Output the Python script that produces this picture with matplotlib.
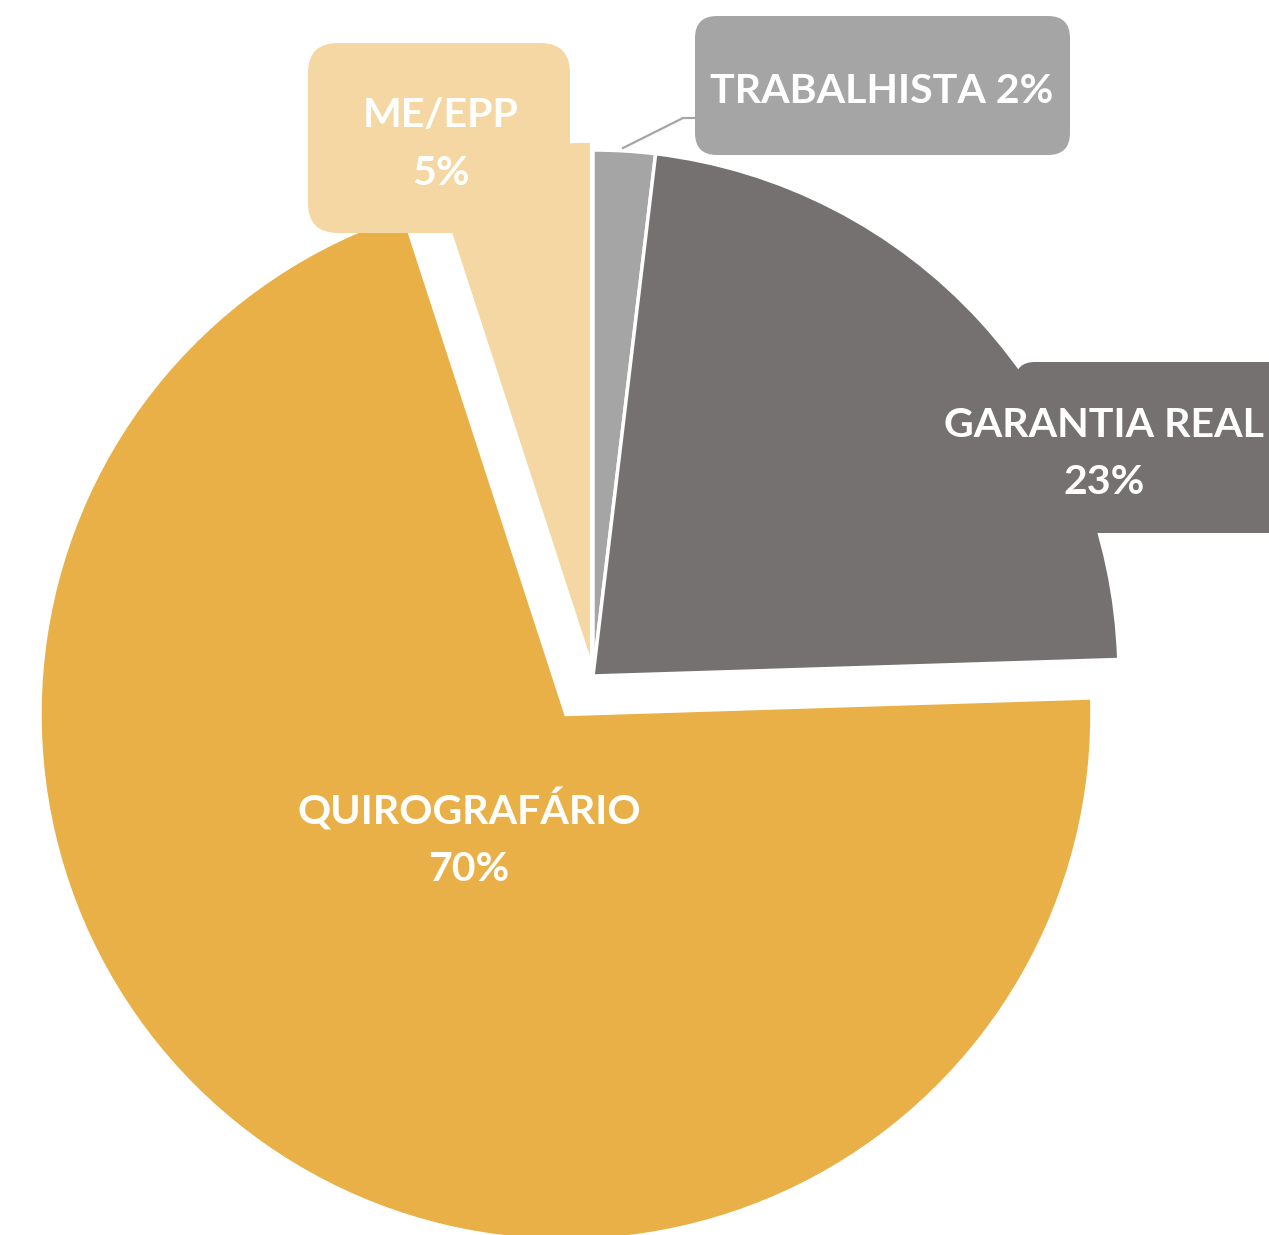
import matplotlib
matplotlib.use('Agg')
import matplotlib.pyplot as plt
from matplotlib.patches import FancyBboxPatch

# data
categories = ['TRABALHISTA', 'GARANTIA REAL', 'QUIROGRAFÁRIO', 'ME/EPP']
shares = [1.9, 22.6, 70.5, 5.0]
colors = ['#A5A5A5', '#767171', '#E9B048', '#F4D7A2']
pct_labels = ['2%', '23%', '70%', '5%']

W, H = 1269, 1235
def Y(y):
    # picture rows -> data y (up)
    return H - y

fig = plt.figure(figsize=(W / 100, H / 100), dpi=100)
ax = fig.add_axes([0, 0, 1, 1])

ax.pie(shares, colors=colors, startangle=90, counterclock=False,
       center=(593, Y(676)), radius=526, explode=[0, 0, 47, 9],
       wedgeprops=dict(edgecolor='white', linewidth=2.5))
ax.set_xlim(0, W)
ax.set_ylim(0, H)
ax.axis('off')

font = dict(family='Lato', weight='bold', size=29.6, color='white', ha='center', va='baseline', zorder=5)

def box(x0, y0, x1, y1, color, r):
    p = FancyBboxPatch((x0, Y(y1)), x1 - x0, y1 - y0,
                       boxstyle='round,pad=0,rounding_size=%d' % r,
                       facecolor=color, edgecolor='none', zorder=4)
    ax.add_patch(p)

# TRABALHISTA label with leader line
box(695, 16, 1070, 155, colors[0], 22)
ax.plot([623, 683, 695], [Y(148), Y(118), Y(118)], color=colors[0], lw=1.6, zorder=3)
ax.text(882, Y(103), categories[0] + ' ' + pct_labels[0], **font)

# GARANTIA REAL
box(1015, 362, 1300, 533, colors[1], 20)
ax.text(1104, Y(437), categories[1], **font)
ax.text(1104, Y(494), pct_labels[1], **font)

# ME/EPP
box(308, 43, 570, 233, colors[3], 30)
ax.text(441, Y(127), categories[3], **font)
ax.text(441, Y(185), pct_labels[3], **font)

# QUIROGRAFARIO (no box)
ax.text(469, Y(825), categories[2], **font)
ax.text(469, Y(881), pct_labels[2], **font)

fig.savefig('out.png', dpi=100)
